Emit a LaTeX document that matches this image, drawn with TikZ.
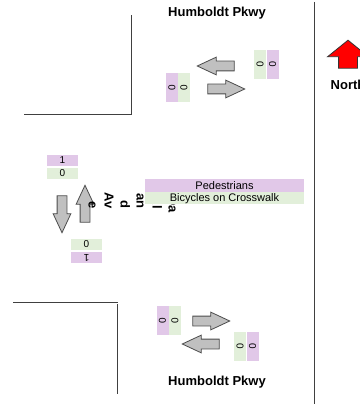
\documentclass[tikz,border=0pt]{standalone}
\usepackage{fontspec}
\setmainfont{Liberation Sans}
\usetikzlibrary{shapes.arrows,positioning}

\definecolor{pedcol}{RGB}{225,200,232}
\definecolor{bikecol}{RGB}{226,239,218}
\definecolor{flowgray}{RGB}{192,192,192}

\tikzset{
  count/.style={inner sep=0pt, minimum width=29pt, minimum height=12pt, font=\fontsize{10}{12}\selectfont},
  flat/.style={inner sep=0pt, minimum width=31pt, minimum height=11pt, font=\fontsize{10}{12}\selectfont},
  flow/.style={single arrow, draw=black!70, fill=flowgray, line width=0.8pt, inner sep=4.5pt,
    single arrow head extend=4pt, single arrow tip angle=50, minimum height=37pt},
  street/.style={font=\fontsize{13}{15}\selectfont\bfseries},
  curb/.style={draw=black!75, line width=1pt}
}

\begin{document}
\begin{tikzpicture}[x=1pt,y=-1pt]
\useasboundingbox (0,0) rectangle (359,406);
% curbs
\draw[curb] (24,115) -- (131,115) -- (131,15);
\draw[curb] (13,302) -- (118,302);
\draw[curb] (117,304) -- (117,394);
\draw[curb] (314,2) -- (314,404);
% street names
\node[street] (pkwyN) at (217,13) {Humboldt Pkwy};
\node[street] (pkwyS) at (217,382) {Humboldt Pkwy};
% north arrow
\node[single arrow, draw=black!80, fill=red, line width=0.8pt, rotate=90, inner sep=9pt,
  single arrow head extend=11pt, single arrow tip angle=102, minimum height=28pt] (north) at (348,58) {};
\node[street] (northlbl) at (348,85) {North};
% movement arrows
\node[flow, rotate=180] (nwb) at (221,66) {};
\node[flow] (neb) at (221,89) {};
\node[flow] (seb) at (206,321) {};
\node[flow, rotate=180] (swb) at (206,344) {};
\node[flow, rotate=-90] (wsb) at (62,209) {};
\node[flow, rotate=90] (wnb) at (85,209) {};
% counts
\node[count, fill=pedcol, rotate=90] (c1) at (172,88) {0};
\node[count, fill=bikecol, rotate=90] (c2) at (184,88) {0};
\node[count, fill=bikecol, rotate=-90] (c3) at (260,64.5) {0};
\node[count, fill=pedcol, rotate=-90] (c4) at (272.5,64.5) {0};
\node[count, fill=pedcol, rotate=90] (c5) at (162.5,320.5) {0};
\node[count, fill=bikecol, rotate=90] (c6) at (175,320.5) {0};
\node[count, fill=bikecol, rotate=-90] (c7) at (240,346.5) {0};
\node[count, fill=pedcol, rotate=-90] (c8) at (252.5,346.5) {0};
\node[flat, fill=pedcol] (c9) at (62.5,160.5) {1};
\node[flat, fill=bikecol] (c10) at (62.5,173) {0};
\node[flat, fill=bikecol] (c11) at (86.5,244) {0};
\node[flat, fill=pedcol, rotate=180] (c12) at (86.5,257.5) {1};
% cross street
\node[font=\fontsize{13}{16}\selectfont\bfseries, rotate=-90, align=right, inner sep=0pt, anchor=north east] (oakland) at (178,209) {Oa\hspace*{-4pt}\\kl\hspace*{-6pt}\\an\\d\\Av\\e};
% legend
\node[inner sep=0pt, minimum width=159pt, minimum height=13pt, fill=pedcol, font=\fontsize{11}{13}\selectfont] (peds) at (224.5,185.5) {Pedestrians};
\node[inner sep=0pt, minimum width=159pt, minimum height=12pt, fill=bikecol, font=\fontsize{11}{13}\selectfont, below=0pt of peds] (bikes) {Bicycles on Crosswalk};
\end{tikzpicture}
\end{document}
